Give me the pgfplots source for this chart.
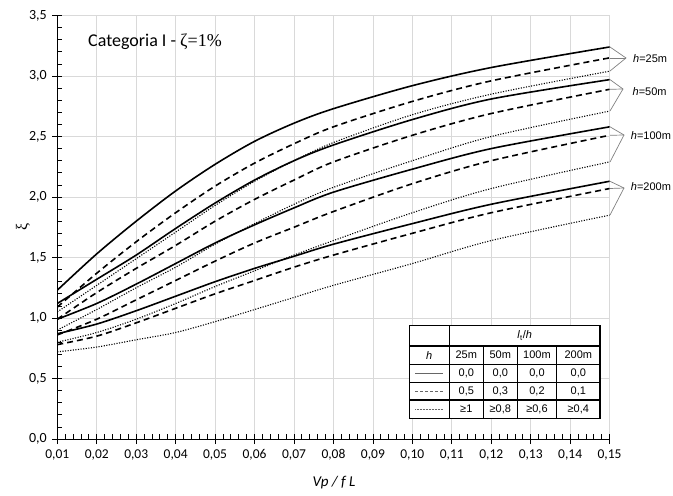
\documentclass[border=0pt]{standalone}
\usepackage{fontspec}
\setmainfont{Carlito}
\newfontfamily\arialf{Liberation Sans}
\newfontfamily\seriff{Liberation Serif}
\usepackage{pgfplots}
\usepackage{pgfplotstable}
\pgfplotsset{compat=1.18}

% columns: x, solid (s), dashed (d), dotted (o)
\pgfplotstableread{
x s d o
0.01 1.23 1.09 1.05
0.02 1.53 1.37 1.27
0.03 1.80 1.63 1.49
0.04 2.05 1.87 1.71
0.05 2.27 2.09 1.93
0.06 2.46 2.28 2.13
0.07 2.61 2.44 2.30
0.08 2.73 2.58 2.45
0.10 2.92 2.79 2.68
0.12 3.07 2.96 2.85
0.15 3.24 3.15 3.04
}\hA
\pgfplotstableread{
x s d o
0.01 1.12 0.99 0.90
0.02 1.32 1.21 1.07
0.03 1.52 1.41 1.25
0.04 1.74 1.60 1.42
0.05 1.95 1.80 1.61
0.06 2.14 1.98 1.78
0.07 2.30 2.14 1.94
0.08 2.43 2.29 2.08
0.10 2.64 2.51 2.30
0.12 2.81 2.69 2.50
0.15 2.97 2.89 2.71
}\hB
\pgfplotstableread{
x s d o
0.01 0.99 0.86 0.80
0.02 1.12 0.99 0.88
0.03 1.28 1.15 0.99
0.04 1.45 1.31 1.12
0.05 1.62 1.47 1.26
0.06 1.77 1.62 1.39
0.07 1.91 1.75 1.52
0.08 2.04 1.88 1.64
0.10 2.23 2.11 1.87
0.12 2.40 2.30 2.07
0.15 2.58 2.51 2.29
}\hC
\pgfplotstableread{
x s d o
0.01 0.87 0.78 0.72
0.02 0.95 0.85 0.76
0.03 1.06 0.96 0.82
0.04 1.18 1.08 0.88
0.05 1.30 1.20 0.97
0.06 1.41 1.31 1.07
0.07 1.51 1.42 1.17
0.08 1.61 1.52 1.27
0.10 1.78 1.70 1.45
0.12 1.94 1.87 1.64
0.15 2.13 2.07 1.85
}\hD

\pgfplotsset{
  sol/.style={black, line width=1.6pt, smooth},
  das/.style={black, line width=1.6pt, dash pattern=on 6pt off 4pt, smooth},
  dot/.style={black, line width=1.1pt, dash pattern=on 1.1pt off 1.5pt, smooth},
}

\begin{document}
\begin{tikzpicture}
\path[use as bounding box] (-57.3pt,-57pt) rectangle (615.7pt,439pt);
\begin{axis}[
  at={(0,0)}, anchor=south west,
  scale only axis, width=552.3pt, height=423.5pt,
  xmin=0.01, xmax=0.15, ymin=0, ymax=3.5,
  xtick={0.01,0.02,0.03,0.04,0.05,0.06,0.07,0.08,0.09,0.10,0.11,0.12,0.13,0.14,0.15},
  ytick={0,0.5,1,1.5,2,2.5,3,3.5},
  minor x tick num=4, minor y tick num=4,
  axis x line=bottom, axis y line=left,
  axis line style={-, black, line width=0.8pt},
  grid=major, major grid style={draw=black!15, line width=0.8pt},
  tick align=inside, major tick length=10pt, minor tick length=5pt,
  major x tick style={yshift=-5pt}, major y tick style={xshift=-5pt},
  tick style={black, line width=0.8pt},
  /pgf/number format/assume math mode=true,
  xticklabel style={/pgf/number format/use comma, /pgf/number format/fixed, /pgf/number format/fixed zerofill, /pgf/number format/precision=2, font=\fontsize{13.5}{15}\selectfont, yshift=-7pt},
  yticklabel style={/pgf/number format/use comma, /pgf/number format/fixed, /pgf/number format/fixed zerofill, /pgf/number format/precision=1, font=\fontsize{14}{15}\selectfont, xshift=-7pt},
  xlabel={\itshape Vp / f L},
  xlabel style={font=\fontsize{15}{16}\selectfont, at={(axis description cs:0.501,-0.104)}, anchor=center},
  ylabel={\seriff ξ},
  ylabel style={font=\fontsize{16}{17}\selectfont, at={(axis description cs:-0.062,0.5)}, anchor=center},
]
\addplot[sol] table[x=x,y=s]{\hA};
\addplot[das] table[x=x,y=d]{\hA};
\addplot[dot] table[x=x,y=o]{\hA};
\addplot[sol] table[x=x,y=s]{\hB};
\addplot[das] table[x=x,y=d]{\hB};
\addplot[dot] table[x=x,y=o]{\hB};
\addplot[sol] table[x=x,y=s]{\hC};
\addplot[das] table[x=x,y=d]{\hC};
\addplot[dot] table[x=x,y=o]{\hC};
\addplot[sol] table[x=x,y=s]{\hD};
\addplot[das] table[x=x,y=d]{\hD};
\addplot[dot] table[x=x,y=o]{\hD};
\end{axis}
\begin{scope}[x=1pt,y=-1pt,shift={(-57.3pt,439pt)}]
  % title
  \node[anchor=west, inner sep=0pt] at (88,42) {\fontsize{18}{21}\selectfont Categoria I - {\seriff ζ=1\%}};
  % brackets
  \begin{scope}[draw=black!50, line width=0.7pt]
    \draw (610,47) -- (626,58) -- (610,71); \draw (610,58) -- (626,58);
    \draw (610,79.6) -- (623,89) -- (610,111); \draw (610,89.3) -- (623,89);
    \draw (610,126.8) -- (624,135) -- (610,162); \draw (610,135.3) -- (624,135);
    \draw (610,181.3) -- (624,188) -- (610,215); \draw (610,188.5) -- (624,188);
  \end{scope}
  \begin{scope}[font=\arialf\fontsize{11}{13}\selectfont]
    \node[anchor=west, inner sep=0pt] at (633,58.3) {\textit{h}=25m};
    \node[anchor=west, inner sep=0pt] at (632.5,91.7) {\textit{h}=50m};
    \node[anchor=west, inner sep=0pt] at (630.7,136) {\textit{h}=100m};
    \node[anchor=west, inner sep=0pt] at (630.7,187) {\textit{h}=200m};
  \end{scope}
  % table
  \fill[white] (409.3,325.7) rectangle (600,418.3);
  \draw[line width=0.7pt] (409.3,364.3) -- (600,364.3);
  \draw[line width=0.7pt] (409.3,382) -- (600,382);
  \draw[line width=0.9pt] (483.3,346) -- (483.3,418.3);
  \draw[line width=0.9pt] (556.7,346) -- (556.7,418.3);
  \draw[line width=1.3pt] (409.3,325.7) rectangle (600,418.3);
  \draw[line width=1.3pt] (409.3,346) -- (600,346);
  \draw[line width=1.3pt] (409.3,400) -- (600,400);
  \draw[line width=1.3pt] (449.3,325.7) -- (449.3,418.3);
  \draw[line width=1.3pt] (517.3,346) -- (517.3,418.3);
  \begin{scope}[font=\arialf\fontsize{11}{13}\selectfont]
    \node at (524.7,335.8) {\textit{l}\textsubscript{t}/\textit{h}};
    \node at (429.3,355.2) {\textit{h}};
    \node at (466.3,355.2) {25m};
    \node at (500.3,355.2) {50m};
    \node at (537,355.2) {100m};
    \node at (578.3,355.2) {200m};
    \draw[black!60, line width=0.8pt] (415,373.2) -- (443,373.2);
    \node at (466.3,373.2) {0,0};
    \node at (500.3,373.2) {0,0};
    \node at (537,373.2) {0,0};
    \node at (578.3,373.2) {0,0};
    \draw[black!60, line width=0.8pt, dash pattern=on 3pt off 2pt] (415,391) -- (443,391);
    \node at (466.3,391) {0,5};
    \node at (500.3,391) {0,3};
    \node at (537,391) {0,2};
    \node at (578.3,391) {0,1};
    \draw[black!60, line width=0.7pt, dash pattern=on 0.7pt off 0.8pt] (415,409.2) -- (443,409.2);
    \node at (466.3,409.2) {≥1};
    \node at (500.3,409.2) {≥0,8};
    \node at (537,409.2) {≥0,6};
    \node at (578.3,409.2) {≥0,4};
  \end{scope}
\end{scope}
\end{tikzpicture}
\end{document}
